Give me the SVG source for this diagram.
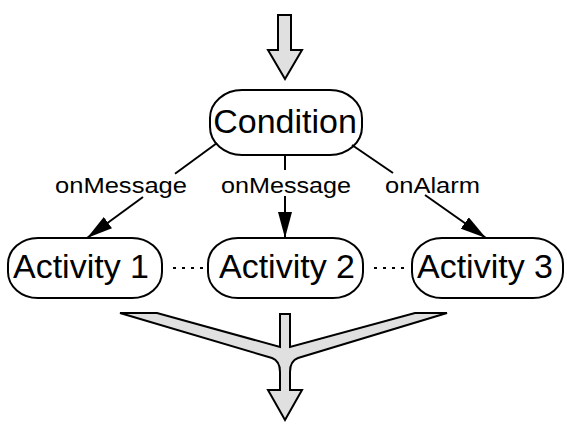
<svg xmlns="http://www.w3.org/2000/svg" width="567" height="430" viewBox="0 0 567 430">
  <style>
    .node { fill: #ffffff; stroke: #000000; stroke-width: 2; }
    .big { fill: #e0e0e0; stroke: #000000; stroke-width: 2; stroke-linejoin: miter; }
    .t { font-family: "Liberation Sans", Arial, sans-serif; font-size: 34px; fill: #000; text-anchor: middle; }
    .lbl { font-family: "Liberation Sans", Arial, sans-serif; font-size: 22px; fill: #000; }
    .edge { fill: none; stroke: #000; stroke-width: 2; }
    .dots { fill: none; stroke: #000; stroke-width: 2; stroke-dasharray: 3 6; }
  </style>
  <defs>
    <marker id="ah" viewBox="0 0 26 14" refX="26" refY="7" markerWidth="26" markerHeight="14" markerUnits="userSpaceOnUse" orient="auto">
      <path d="M0,0 L26,7 L0,14 Z" fill="#000"/>
    </marker>
  </defs>

  <g id="entry-arrow">
    <path class="big" d="M278,15 L291,15 L291,50 L302,50 L285,79 L268,50 L278,50 Z"/>
  </g>

  <g id="condition">
    <rect class="node" x="210" y="90" width="152" height="65" rx="32" ry="28"/>
    <text class="t" x="285" y="133">Condition</text>
  </g>

  <g id="activity1">
    <rect class="node" x="8" y="238" width="154" height="60" rx="30" ry="26"/>
    <text class="t" x="81" y="278">Activity 1</text>
  </g>
  <g id="activity2">
    <rect class="node" x="208" y="238" width="155" height="60" rx="30" ry="26"/>
    <text class="t" x="287" y="278">Activity 2</text>
  </g>
  <g id="activity3">
    <rect class="node" x="412" y="238" width="151" height="60" rx="30" ry="26"/>
    <text class="t" x="485" y="278">Activity 3</text>
  </g>

  <g id="connectors">
    <path class="edge" d="M217,143 L175,173.7"/>
    <path class="edge" d="M143,197 L87,238" marker-end="url(#ah)"/>
    <path class="edge" d="M285,155 L285,170"/>
    <path class="edge" d="M285,196 L285,238" marker-end="url(#ah)"/>
    <path class="edge" d="M352,145 L393,173"/>
    <path class="edge" d="M425,195 L486,238" marker-end="url(#ah)"/>
    <text class="lbl" x="55" y="193" textLength="132" lengthAdjust="spacingAndGlyphs">onMessage</text>
    <text class="lbl" x="221" y="193" textLength="130" lengthAdjust="spacingAndGlyphs">onMessage</text>
    <text class="lbl" x="385" y="193" textLength="95" lengthAdjust="spacingAndGlyphs">onAlarm</text>
    <path class="dots" d="M173,268 L203,268"/>
    <path class="dots" d="M374,268 L404,268"/>
  </g>

  <g id="merge-arrow">
    <path class="big" d="M120,313 L157,313 L280,347 L280,314 L290,314 L290,347 L415,313 L447,313 L298,358 Q290,361 290,372 L290,390 L302,390 L285,420 L268,390 L280,390 L280,372 Q280,361 272,358 Z"/>
  </g>
</svg>
